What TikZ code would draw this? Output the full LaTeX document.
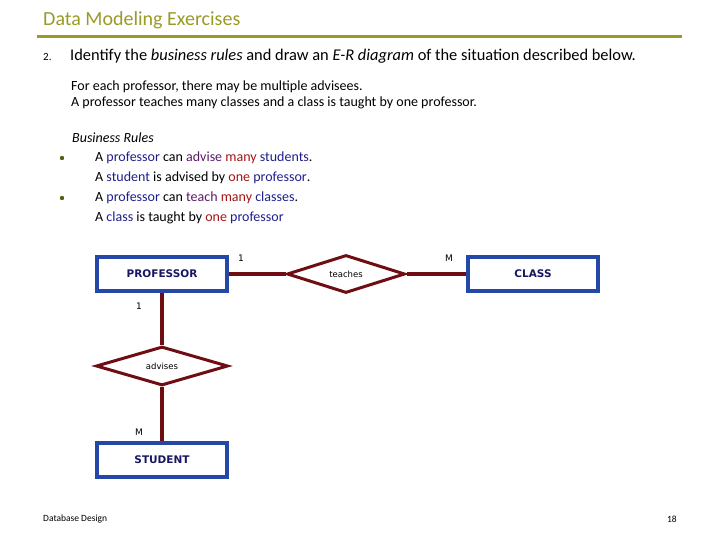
\documentclass[tikz,border=0pt]{standalone}
\usepackage{fontspec}
\setmainfont{Carlito}
\newfontfamily\erfont{DejaVu Sans}
\usetikzlibrary{positioning,shapes.geometric}
\definecolor{olivetitle}{HTML}{9A9A28}
\definecolor{entblue}{HTML}{2448A8}
\definecolor{linkred}{HTML}{6E0E12}
\definecolor{wnavy}{HTML}{1F1F8C}
\definecolor{wpurple}{HTML}{5A1A6A}
\definecolor{wred}{HTML}{A31515}
\tikzset{entity/.style={draw=entblue, line width=3.2pt, minimum width=130pt, minimum height=34pt, inner sep=0pt, font=\erfont\bfseries\fontsize{10.5}{12}\selectfont, text=wnavy!70!black}}
\tikzset{relship/.style={diamond, draw=linkred, line width=3pt, aspect=3.1, inner sep=0pt, font=\erfont\fontsize{8.5}{10}\selectfont}}
\tikzset{link/.style={draw=linkred, line width=3.6pt}}
\tikzset{card/.style={font=\erfont\fontsize{9}{10}\selectfont, inner sep=0pt}}
\newcommand{\wNavy}[1]{\textcolor{wnavy}{#1}}
\newcommand{\wPurp}[1]{\textcolor{wpurple}{#1}}
\newcommand{\wRed}[1]{\textcolor{wred}{#1}}
\begin{document}
\begin{tikzpicture}[x=1pt, y=-1pt]
    \useasboundingbox (0,0) rectangle (720,540);
    % header
    \node[anchor=west, text=olivetitle, font=\fontsize{20}{22}\selectfont, inner sep=0pt] (title) at (43,20) {Data Modeling Exercises};
    \draw[olivetitle, line width=3pt] (37,37) -- (682,37);
    \node[anchor=west, font=\fontsize{11}{12}\selectfont, inner sep=0pt] (num) at (43,57) {2.};
    \node[anchor=west, font=\fontsize{16.4}{18}\selectfont, inner sep=0pt] (task) at (70,56) {Identify the \textit{business rules} and draw an \textit{E-R diagram} of the situation described below.};
    \node[anchor=west, font=\fontsize{14}{15}\selectfont, inner sep=0pt] (desc1) at (71,87) {For each professor, there may be multiple advisees.};
    \node[anchor=west, font=\fontsize{14}{15}\selectfont, inner sep=0pt] (desc2) at (71,103) {A professor teaches many classes and a class is taught by one professor.};
    % business rules
    \node[anchor=west, font=\fontsize{14}{15}\selectfont\itshape, inner sep=0pt] (brhead) at (72,138) {Business Rules};
    \foreach \y/\txt in {158/{A \wNavy{professor} can \wPurp{advise} \wRed{many} \wNavy{students}.},
                         178/{A \wNavy{student} is advised by \wRed{one} \wNavy{professor}.},
                         198/{A \wNavy{professor} can \wPurp{teach} \wRed{many} \wNavy{classes}.},
                         218/{A \wNavy{class} is taught by \wRed{one} \wNavy{professor}}}
        \node[anchor=west, font=\fontsize{14}{15}\selectfont, inner sep=0pt] at (95,\y) {\txt};
    \foreach \y in {158,198}
        \fill[olivetitle!60!black] (62,\y) circle (2.2pt);
    % E-R diagram
    \node[entity] (prof) at (162,274) {PROFESSOR};
    \node[entity] (class) at (533,274) {CLASS};
    \node[entity] (stud) at (162,460) {STUDENT};
    \node[relship, minimum width=118pt, minimum height=38pt] (teach) at (346,274) {teaches};
    \node[relship, minimum width=132pt, minimum height=39pt] (adv) at (162,366) {advises};
    %
    \draw[link] (prof) -- (teach);
    \draw[link] (teach) -- (class);
    \draw[link] (prof) -- (adv);
    \draw[link] (adv) -- (stud);
    %
    \node[card] (c1) at (241,258) {1};
    \node[card] (c2) at (449,258) {M};
    \node[card] (c3) at (139,306) {1};
    \node[card] (c4) at (139,432) {M};
    % footer
    \node[anchor=west, font=\fontsize{9.5}{10}\selectfont, inner sep=0pt] (foot) at (43,519) {Database Design};
    \node[anchor=east, font=\fontsize{9.5}{10}\selectfont, inner sep=0pt] (page) at (677,519) {18};
\end{tikzpicture}
\end{document}
